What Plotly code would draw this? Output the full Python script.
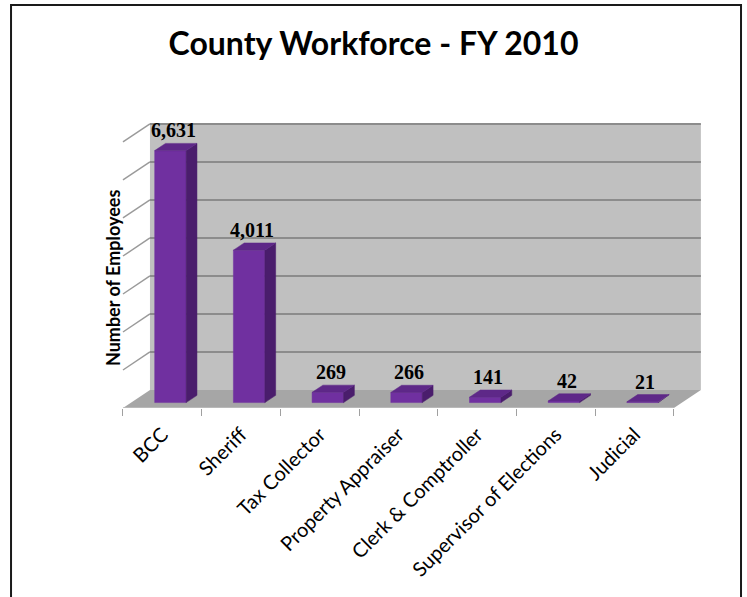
import plotly.graph_objects as go

# ---- data -------------------------------------------------------------
categories = ["BCC", "Sheriff", "Tax Collector", "Property Appraiser",
              "Clerk & Comptroller", "Supervisor of Elections", "Judicial"]
employees = [6631, 4011, 269, 266, 141, 42, 21]
gridlines = [1000, 2000, 3000, 4000, 5000, 6000, 7000]

# ---- oblique 3-D projection settings ---------------------------------
DX = 0.343      # depth shift along x (category units)
DY = 475        # depth shift along y (employee units)
F0, F1 = 0.3, 0.7   # front / back depth of each column
BAR_W = 0.4

FRONT = "#7030A0"
SIDE = "#4A1D6C"
TOP = "#5E2888"
WALL = "#C0C0C0"
FLOOR = "#A6A6A6"
GRID = "#8C8C8C"

n = len(categories)
x_lo, x_hi = -0.5, n - 0.5
y_top = gridlines[-1]

fig = go.Figure()


def poly(xs, ys, color, width=0, line_color=None):
    fig.add_trace(go.Scatter(
        x=xs + [xs[0]], y=ys + [ys[0]], mode="lines", fill="toself",
        fillcolor=color, line=dict(width=width, color=line_color or color),
        hoverinfo="skip", showlegend=False))


def seg(x0, y0, x1, y1, color, width):
    fig.add_trace(go.Scatter(
        x=[x0, x1], y=[y0, y1], mode="lines",
        line=dict(width=width, color=color),
        hoverinfo="skip", showlegend=False))


# back wall
poly([x_lo + DX, x_hi + DX, x_hi + DX, x_lo + DX],
     [DY, DY, y_top + DY, y_top + DY], WALL)
# floor
poly([x_lo, x_hi, x_hi + DX, x_lo + DX], [0, 0, DY, DY], FLOOR)
# front edge of the floor
seg(x_lo, 0, x_hi, 0, "#BFBFBF", 1.5)

# gridlines on back wall and their diagonals on the side wall
for g in gridlines:
    seg(x_lo + DX, g + DY, x_hi + DX, g + DY, GRID, 2)
    seg(x_lo, g, x_lo + DX, g + DY, "#9A9A9A", 1.5)

# columns: front, side and top faces
for i, v in enumerate(employees):
    xl, xr = i - BAR_W / 2, i + BAR_W / 2
    poly([xl + F0 * DX, xr + F0 * DX, xr + F0 * DX, xl + F0 * DX],
         [F0 * DY, F0 * DY, v + F0 * DY, v + F0 * DY], FRONT, 0.5)
    poly([xr + F0 * DX, xr + F1 * DX, xr + F1 * DX, xr + F0 * DX],
         [F0 * DY, F1 * DY, v + F1 * DY, v + F0 * DY], SIDE, 0.5)
    poly([xl + F0 * DX, xr + F0 * DX, xr + F1 * DX, xl + F1 * DX],
         [v + F0 * DY, v + F0 * DY, v + F1 * DY, v + F1 * DY], TOP, 0.5)

# value labels
for i, v in enumerate(employees):
    fig.add_annotation(
        x=i + 0.4 * DX, y=v + F1 * DY, text=f"{v:,}", showarrow=False,
        xanchor="center", yanchor="bottom", yshift=0,
        font=dict(family="Liberation Serif", size=20, color="black",
                  weight="bold"))

fig.update_xaxes(
    range=[-0.792, 7.086], showgrid=False, zeroline=False, showline=False,
    tickmode="array", tickvals=list(range(n)), ticktext=categories,
    tickangle=-45, ticks="outside", ticklen=6, tickcolor="rgba(0,0,0,0)",
    tickfont=dict(family="Lato", size=20, color="black"),
    minor=dict(tickmode="array", tickvals=[k - 0.5 for k in range(n + 1)],
               ticks="outside", ticklen=7, tickwidth=1, tickcolor="#A0A0A0",
               showgrid=False),
    fixedrange=True)
fig.update_yaxes(range=[0, 8105], visible=False, fixedrange=True)

# axis title
fig.add_annotation(
    x=0.021, y=0.422, xref="paper", yref="paper", text="Number of Employees",
    textangle=-90, showarrow=False, xanchor="center", yanchor="middle",
    font=dict(family="Lato", size=18, color="black", weight="bold"))

# outer border
fig.add_shape(type="rect", xref="paper", yref="paper",
              x0=-0.1435, x1=1.0339, y0=-0.72, y1=1.3084,
              line=dict(color="#1A1A1A", width=2), layer="above")

fig.update_layout(
    width=747, height=597,
    margin=dict(l=100, r=27, t=100, b=189),
    paper_bgcolor="white", plot_bgcolor="white",
    title=dict(text="<b>County Workforce - FY 2010</b>", x=0.5, xref="container",
               y=1 - 44 / 597, yref="container", xanchor="center",
               yanchor="middle",
               font=dict(family="Lato", size=32, color="black")),
)

fig.write_html("out.html")
